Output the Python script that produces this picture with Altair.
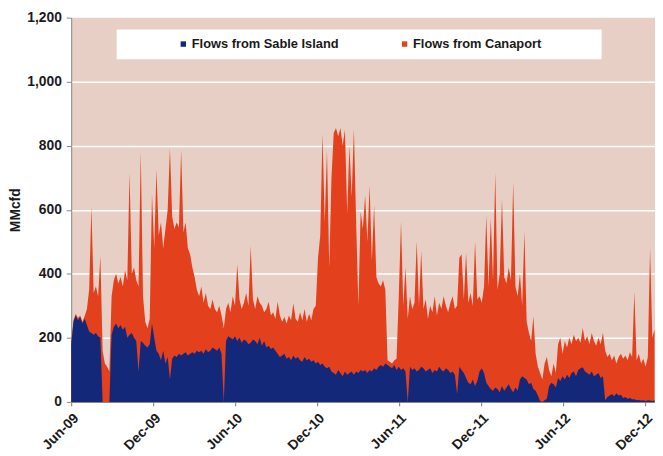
import altair as alt
import pandas as pd
from datetime import date, timedelta

start = date(2009, 6, 1)
step_days = 5

# Flows from Sable Island (bottom, navy)
sable = [
    180, 250, 270, 255, 265, 245, 260, 240, 220, 215,
    210, 215, 205, 200, 0, 0, 0, 0, 210, 235,
    245, 230, 240, 225, 235, 200, 210, 215, 200, 190,
    95, 190, 185, 175, 170, 180, 245, 200, 160, 150,
    130, 160, 120, 140, 70, 135, 145, 140, 150, 145,
    150, 155, 145, 150, 155, 150, 160, 155, 160, 150,
    165, 155, 160, 170, 165, 160, 170, 150, 0, 190,
    205, 200, 195, 205, 190, 200, 185, 195, 190, 180,
    185, 195, 190, 180, 200, 175, 190, 170, 175, 165,
    170, 160, 150, 140, 145, 150, 135, 140, 130, 145,
    135, 140, 130, 125, 140, 130, 135, 125, 130, 120,
    125, 115, 120, 110, 105, 110, 95, 90, 85, 100,
    90, 80, 95, 85, 90, 95, 85, 95, 90, 100,
    95, 100, 90, 100, 95, 105, 100, 110, 115, 110,
    120, 115, 110, 105, 115, 100, 110, 100, 105, 95,
    0, 110, 100, 105, 95, 100, 110, 105, 95, 100,
    105, 90, 100, 95, 110, 100, 95, 105, 100, 90,
    95, 85, 25, 110, 100, 90, 75, 60, 55, 70,
    50, 65, 95, 105, 90, 60, 50, 40, 35, 45,
    40, 30, 50, 35, 45, 55, 40, 30, 45, 35,
    70, 80, 75, 70, 55, 60, 40, 35, 20, 3,
    0, 5, 10, 50, 60, 55, 45, 75, 65, 80,
    70, 85, 75, 90, 95, 80, 100, 105, 108, 95,
    90, 85, 95, 80, 85, 90, 75, 80, 5, 15,
    20, 25, 18, 27, 20, 22, 12, 15, 10, 12,
    8, 8, 5, 6, 4, 5, 3, 5, 4, 3,
    4,
]

# Total flows (top of the stacked areas: Sable Island + Canaport)
total = [
    185, 255, 275, 262, 270, 250, 268, 290, 350, 610,
    340, 360, 330, 456, 160, 120, 110, 95, 330, 380,
    400, 370, 390, 360, 410, 380, 716, 400, 420, 380,
    360, 782, 330, 250, 230, 260, 650, 480, 726, 520,
    560, 480, 540, 600, 792, 580, 540, 560, 545, 787,
    530, 560, 480, 460, 420, 390, 350, 330, 360, 310,
    340, 300, 290, 320, 290, 280, 300, 270, 230, 290,
    310, 280, 330, 300, 430, 320, 290, 310, 340, 300,
    487, 320, 290, 330, 310, 300, 280, 290, 313, 270,
    280, 260, 313, 270, 250, 265, 245, 270, 255, 308,
    260, 250, 280, 255, 290, 250, 275, 255, 290, 300,
    450, 520, 838, 560, 785, 420, 700, 840, 855, 830,
    855, 800, 850, 590, 800, 640, 853, 560, 300, 595,
    540, 645, 500, 675, 440, 614, 390, 370, 360, 380,
    350, 130, 125, 120, 130, 135, 330, 563, 300, 420,
    260, 330, 290, 310, 502, 300, 471, 290, 320, 260,
    300, 280, 330, 270, 310, 290, 330, 300, 280, 310,
    330, 290, 300, 450, 461, 320, 466, 310, 340, 300,
    502, 320, 330, 310, 360, 583, 360, 573, 380, 716,
    350, 400, 634, 390, 370, 420, 380, 686, 360, 330,
    400, 300, 532, 250, 216, 190, 267, 150, 110, 90,
    70, 120, 140, 100, 80, 120, 90, 180, 200, 150,
    190, 170, 200, 180, 210, 190, 200, 185, 231, 190,
    205, 180, 215, 190, 175, 200, 180, 216, 160, 140,
    150, 130, 145, 120, 140, 150, 135, 145, 130, 155,
    140, 344, 130, 150, 120, 135, 110, 140, 481, 200,
    226,
]

series_names = ["Flows from Sable Island", "Flows from Canaport"]
series_colors = ["#14287A", "#E3411E"]
y_ticks = [0, 200, 400, 600, 800, 1000, 1200]
x_tick_months = [(2009, 6), (2009, 12), (2010, 6), (2010, 12),
                 (2011, 6), (2011, 12), (2012, 6), (2012, 12)]

dates = [(start + timedelta(days=step_days * i)).isoformat() for i in range(len(sable))]
df_sable = pd.DataFrame({"date": dates, "value": sable, "series": series_names[0]})
df_total = pd.DataFrame({"date": dates, "value": total, "series": series_names[1]})

FONT = "Liberation Sans"

x_enc = alt.X(
    "date:T",
    title=None,
    scale=alt.Scale(
        type="utc",
        domain=[alt.DateTime(year=2009, month=6, date=1, utc=True),
                alt.DateTime(year=2012, month=12, date=23, utc=True)],
    ),
    axis=alt.Axis(
        values=[alt.DateTime(year=y, month=m, date=1, utc=True) for y, m in x_tick_months],
        format="%b-%y",
        grid=False,
        labelAngle=315,
        labelAlign="right",
        labelBaseline="top",
        labelFont=FONT,
        labelFontSize=14,
        labelFontWeight="bold",
        labelColor="#1a1a1a",
        labelPadding=5,
        tickSize=4,
        tickColor="#777777",
        domainColor="#777777",
        labelOverlap=False,
    ),
)

y_enc = alt.Y(
    "value:Q",
    stack=None,
    title="MMcfd",
    scale=alt.Scale(domain=[0, 1200], nice=False),
    axis=alt.Axis(
        values=y_ticks,
        format=",d",
        labelFont=FONT,
        labelFontSize=14,
        labelFontWeight="bold",
        labelColor="#1a1a1a",
        labelPadding=5,
        tickSize=5,
        tickColor="#888888",
        domainColor="#888888",
        gridColor="white",
        gridWidth=1.5,
        gridOpacity={"condition": {"test": "datum.value >= 1200", "value": 0}, "value": 1},
        titleFont=FONT,
        titleFontSize=14,
        titleFontWeight="bold",
        titleColor="#1a1a1a",
        titlePadding=4,
    ),
)

color_enc = alt.Color(
    "series:N",
    scale=alt.Scale(domain=series_names, range=series_colors),
    legend=alt.Legend(
        title=".",
        titleOrient="right",
        titleColor="white",
        titleFontSize=13,
        titlePadding=49,
        orient="none",
        legendX=46,
        legendY=12,
        direction="horizontal",
        fillColor="white",
        padding=8,
        symbolType="square",
        symbolSize=30,
        symbolOffset=53,
        symbolStrokeWidth=0,
        labelOffset=2,
        labelFont=FONT,
        labelFontSize=13,
        labelFontWeight="bold",
        labelColor="#1a1a1a",
        columnPadding=7,
    ),
)

red = alt.Chart(df_total).mark_area(interpolate="linear", opacity=1).encode(
    x=x_enc, y=y_enc, color=color_enc
)
blue = alt.Chart(df_sable).mark_area(interpolate="linear", opacity=1).encode(
    x=x_enc, y=y_enc, color=color_enc
)

chart = alt.layer(red, blue).properties(
    width=591,
    height=389,
    padding={"left": 64, "top": 7, "right": 0, "bottom": 52},
    autosize=alt.AutoSizeParams(type="none"),
    background="white",
).configure_view(fill="#E8CFC5", stroke=None)

chart.save("out.html", embed_options={"renderer": "svg", "actions": False})
